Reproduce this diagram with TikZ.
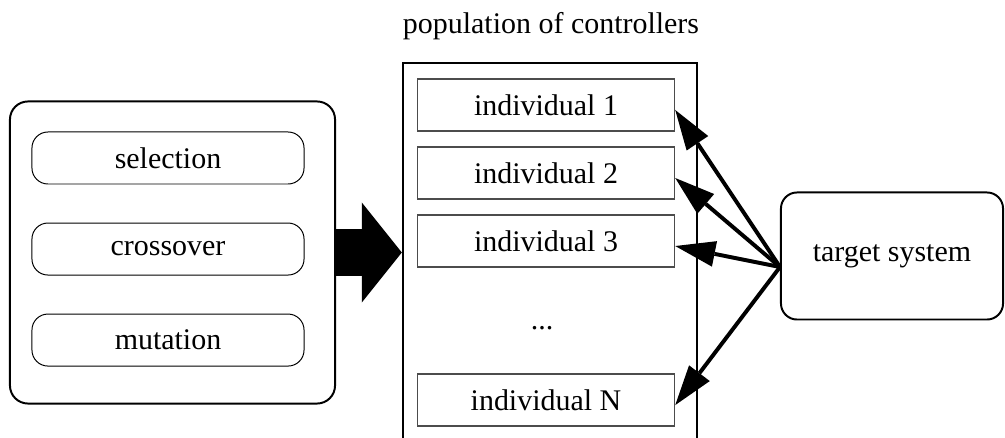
\documentclass[tikz,border=0pt]{standalone}
\usepackage{fontspec}
\setmainfont{Liberation Serif}
\usetikzlibrary{arrows.meta}
\tikzstyle{container} = [rectangle, rounded corners=0.45cm, minimum width=8.125cm, minimum height=7.55cm, draw=black, line width=1.4pt]
\tikzstyle{operator} = [rectangle, rounded corners=0.4cm, minimum width=6.8cm, minimum height=1.3cm, text centered, draw=black, line width=0.7pt]
\tikzstyle{population} = [rectangle, minimum width=7.35cm, minimum height=9.45cm, draw=black, line width=1.6pt]
\tikzstyle{individual} = [rectangle, minimum width=6.425cm, minimum height=1.3cm, text centered, draw=black!70, line width=1pt]
\tikzstyle{system} = [rectangle, rounded corners=0.4cm, minimum width=5.55cm, minimum height=3.175cm, text centered, draw=black, line width=1.4pt]
\tikzstyle{arrow} = [line width=2.8pt, -{Triangle[length=1cm, width=0.65cm, line width=0pt]}]
\tikzstyle{bigarrow} = [line width=1.15cm, -{Triangle[length=1cm, width=2.5cm, line width=0pt]}]

\begin{document}
\begin{tikzpicture}[x=0.025cm, y=-0.025cm, node distance=1.7cm, every node/.style={font=\fontsize{21.3pt}{25pt}\selectfont}]
	\clip (0,0) rectangle (1005,438);

	% genetic operators
	\node (GA) [container] at (172.5,252.5) {};
	\node (O1) [operator] at (168,158) {selection};
	\node (O2) [operator, below of = O1, yshift = -0.575cm] {crossover};
	\node (O3) [operator, below of = O2, yshift = -0.575cm] {mutation};

	% population
	\node (pop) [population] at (550,252) {};
	\node (title) at (551,26) {population of controllers};
	\node (I1) [individual] at (546,105) {individual 1};
	\node (I2) [individual, below of = I1] {individual 2};
	\node (I3) [individual, below of = I2] {individual 3};
	\node (dots) [below of = I3, yshift = -0.475cm, xshift = -0.1cm] {...};
	\node (IN) [individual, below of = dots, yshift = -0.1cm, xshift = 0.1cm] {individual N};

	\node (T) [system] at (892,256) {target system};

	\draw [bigarrow] (GA.east) -- (GA.east -| pop.west);
	\foreach \n in {I1,I2,I3,IN}
		\draw [arrow] ([yshift=-0.275cm]T.west) -- ([yshift=-0.125cm]\n.east);
\end{tikzpicture}
\end{document}
